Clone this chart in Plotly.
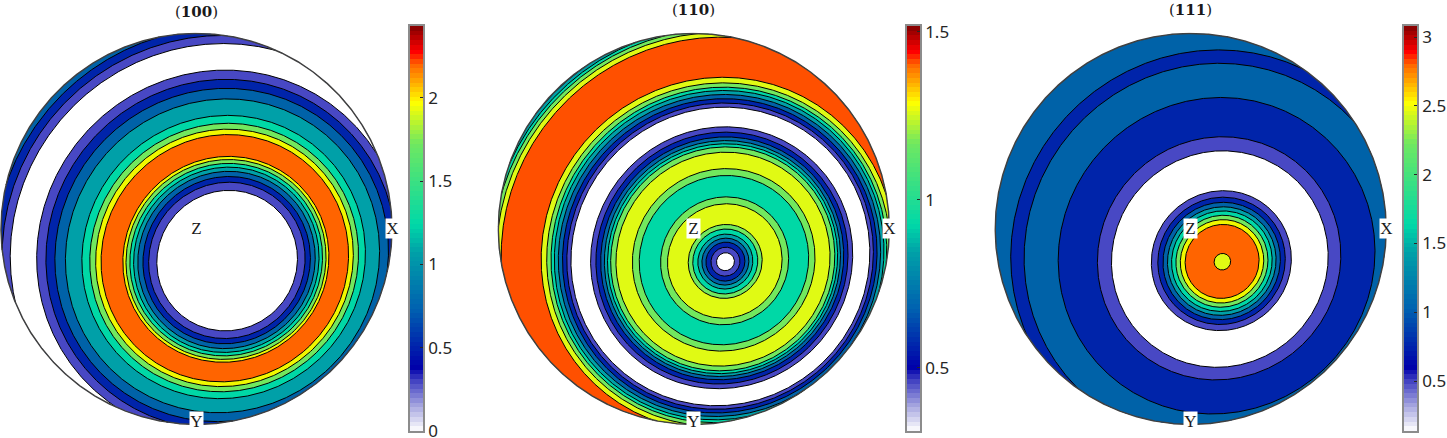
import numpy as np
import plotly.graph_objects as go

W, H = 1447, 438

# band colours
WHITE = '#ffffff'
PURPLE = '#4848c4'
BLUE = '#0024aa'
STEEL = '#0062a8'
TEAL = '#00a0a8'
TURQ = '#00d8a6'
GREEN = '#72e85e'
YELLOW = '#f0f800'
LIME = '#e0fa14'
ORANGE = '#ff6400'
ORANGE2 = '#ff5000'

# pole of the rings, degrees from the centre of the projection
pole_tilt = 19.0
pole_azimuth = -46.0

# contour angles around the pole (degrees) and the band inside each of them,
# the last band runs on to the rim
titles = ['100', '110', '111']

angles_100 = [29.46, 32.86, 35.24, 37.42, 39.18, 40.76, 42.4, 43.74, 53.15, 55.52, 58.12,
              61.66, 69.2, 74.16, 78.5, 83.06, 96.94, 101.5, 105.84]
bands_100 = [WHITE, PURPLE, BLUE, STEEL, TEAL, TURQ, GREEN, YELLOW, ORANGE, YELLOW, GREEN,
             TURQ, TEAL, STEEL, BLUE, PURPLE, WHITE, PURPLE, BLUE, STEEL]

angles_110 = [3.73, 6.01, 8.09, 9.75, 11.42, 13.5, 15.38, 23.92, 26.77, 35.67, 38.56, 45.54,
              47.8, 49.15, 50.53, 52.13, 54.22, 56.56, 65.4, 67.3, 69.3, 71.26, 73.14, 74.72,
              76.79, 79.5, 100.5, 103.2, 105.3, 106.9, 108.7]
bands_110 = [WHITE, PURPLE, BLUE, STEEL, TEAL, TURQ, GREEN, LIME, GREEN, TURQ, GREEN, LIME,
             GREEN, TURQ, TEAL, STEEL, BLUE, PURPLE, WHITE, PURPLE, BLUE, STEEL, TEAL, TURQ,
             GREEN, LIME, ORANGE2, LIME, GREEN, TURQ, TEAL, STEEL]

angles_111 = [3.44, 15.38, 17.35, 19.16, 20.96, 22.65, 24.51, 26.64, 29.33, 46.12, 52.2,
              69.86, 86.5, 93.5]
bands_111 = [LIME, ORANGE, YELLOW, GREEN, TURQ, TEAL, STEEL, BLUE, PURPLE, WHITE, PURPLE,
             BLUE, STEEL, BLUE, STEEL]

# colour bars: value range and ticks
bar_ranges = [(0, 2.43), (0.3125, 1.517), (0.137, 3.08)]
bar_ticks = [[0, 0.5, 1, 1.5, 2], [0.5, 1, 1.5], [0.5, 1, 1.5, 2, 2.5, 3]]
bar_steps = 86
bar_stops = [0, 0.06, 0.12, 0.156, 0.30, 0.44, 0.51, 0.71, 0.81, 0.905, 0.936, 1]
bar_colours = ['#ffffff', '#a8a8e0', '#4848c4', '#0000aa', '#0060b0', '#00a0a8', '#00d8a8',
               '#70e860', '#ffff00', '#ff6400', '#ff0000', '#800000']

# where the panels sit in the window (px)
disc_x = [196.5, 693.8, 1190.7]
disc_y = 228.9
disc_r = 195.5
bar_x = [(410, 423), (907, 920), (1404, 1417)]
bar_y = (26, 431)
title_y = [12, 10, 10]

phi = np.radians(np.linspace(0, 360, 1441))


def project(angle):
    """Contour at `angle` around the pole, equal area projection, cut at the rim."""
    tilt = np.radians(pole_tilt)
    az = np.radians(pole_azimuth)
    rim = np.arctan2(np.cos(tilt), np.sin(tilt) * np.cos(phi))
    a = np.minimum(np.radians(angle), rim)
    e1 = np.cos(a) * np.sin(tilt) + np.sin(a) * np.cos(phi) * np.cos(tilt)
    e2 = np.sin(a) * np.sin(phi)
    vx = e1 * np.cos(az) - e2 * np.sin(az)
    vy = e1 * np.sin(az) + e2 * np.cos(az)
    vz = np.cos(a) * np.cos(tilt) - np.sin(a) * np.sin(tilt) * np.cos(phi)
    s = np.sqrt(1 + np.clip(vz, 0, 1))
    return vx / s, vy / s, np.radians(angle) < rim


fig = go.Figure()
panels = [(angles_100, bands_100), (angles_110, bands_110), (angles_111, bands_111)]

for i, (angles, bands) in enumerate(panels):
    n = i * 2 + 1
    xa, ya = ('x', 'y') if n == 1 else (f'x{n}', f'y{n}')

    # paint from the rim inwards
    x, y, _ = project(180)
    fig.add_trace(go.Scatter(x=x, y=y, xaxis=xa, yaxis=ya, mode='lines', fill='toself',
                             fillcolor=bands[-1], line=dict(width=0), hoverinfo='skip'))
    for k in range(len(angles) - 1, -1, -1):
        x, y, inside = project(angles[k])
        fig.add_trace(go.Scatter(x=x, y=y, xaxis=xa, yaxis=ya, mode='lines', fill='toself',
                                 fillcolor=bands[k], line=dict(width=0), hoverinfo='skip'))
    for k in range(len(angles) - 1, -1, -1):
        x, y, inside = project(angles[k])
        fig.add_trace(go.Scatter(x=np.where(inside, x, np.nan), y=np.where(inside, y, np.nan),
                                 xaxis=xa, yaxis=ya, mode='lines',
                                 line=dict(color='black', width=1), hoverinfo='skip'))

    # rim
    fig.add_trace(go.Scatter(x=np.cos(phi), y=np.sin(phi), xaxis=xa, yaxis=ya, mode='lines',
                             line=dict(color='#404040', width=1.5), hoverinfo='skip'))

    pad_px = 1.0
    pad = (disc_r + pad_px) / disc_r
    fig.update_layout({
        f'xaxis{n}': dict(domain=[(disc_x[i] - disc_r - pad_px) / W, (disc_x[i] + disc_r + pad_px) / W],
                          range=[-pad, pad], visible=False),
        f'yaxis{n}': dict(domain=[1 - (disc_y + disc_r + pad_px) / H, 1 - (disc_y - disc_r - pad_px) / H],
                          range=[-pad, pad], visible=False),
    })

    for label, lx, ly in [('X', 1, 0), ('Y', 0, -0.985), ('Z', 0, 0)]:
        fig.add_annotation(x=lx, y=ly, xref=xa, yref=ya, text=label, showarrow=False,
                           bgcolor='white', width=13, height=19, borderpad=0,
                           font=dict(family='Liberation Serif', size=17, color='#1a1a1a'))

    fig.add_annotation(x=disc_x[i] / W, y=1 - title_y[i] / H, xref='paper', yref='paper',
                       text=f'(<b>{titles[i]}</b>)', showarrow=False, xanchor='center', yanchor='middle',
                       font=dict(family='DejaVu Serif', size=15, color='#1a1a1a'))

    # colour bar
    m = i * 2 + 2
    lo, hi = bar_ranges[i]
    edges = np.linspace(lo, hi, bar_steps + 1)
    levels = (edges[:-1] + edges[1:]) / 2
    fig.add_trace(go.Heatmap(x=[0, 1], y=edges, z=levels.reshape(-1, 1), xaxis=f'x{m}', yaxis=f'y{m}',
                             zmin=lo, zmax=hi, showscale=False, hoverinfo='skip',
                             colorscale=[[s, c] for s, c in zip(bar_stops, bar_colours)]))
    frame = dict(showline=True, mirror=True, linecolor='#8c8c8c', linewidth=1.5)
    fig.update_layout({
        f'xaxis{m}': dict(domain=[bar_x[i][0] / W, bar_x[i][1] / W], range=[0, 1], showgrid=False,
                          zeroline=False, showticklabels=False, ticks='', anchor=f'y{m}', **frame),
        f'yaxis{m}': dict(domain=[1 - bar_y[1] / H, 1 - bar_y[0] / H], range=[lo, hi], side='right',
                          anchor=f'x{m}', tickvals=bar_ticks[i], ticktext=[str(t) for t in bar_ticks[i]],
                          ticks='inside', ticklen=3, tickcolor='#262626', tickwidth=1, showgrid=False,
                          zeroline=False, ticklabeloverflow='allow',
                          tickfont=dict(family='Noto Sans', size=17, color='#262626'), **frame),
    })

fig.update_layout(width=W, height=H, margin=dict(l=0, r=0, t=0, b=0, autoexpand=False), showlegend=False,
                  paper_bgcolor='white', plot_bgcolor='white')
fig.write_html('out.html', config={'displayModeBar': False},
               post_script='document.body.style.margin = "0";')
